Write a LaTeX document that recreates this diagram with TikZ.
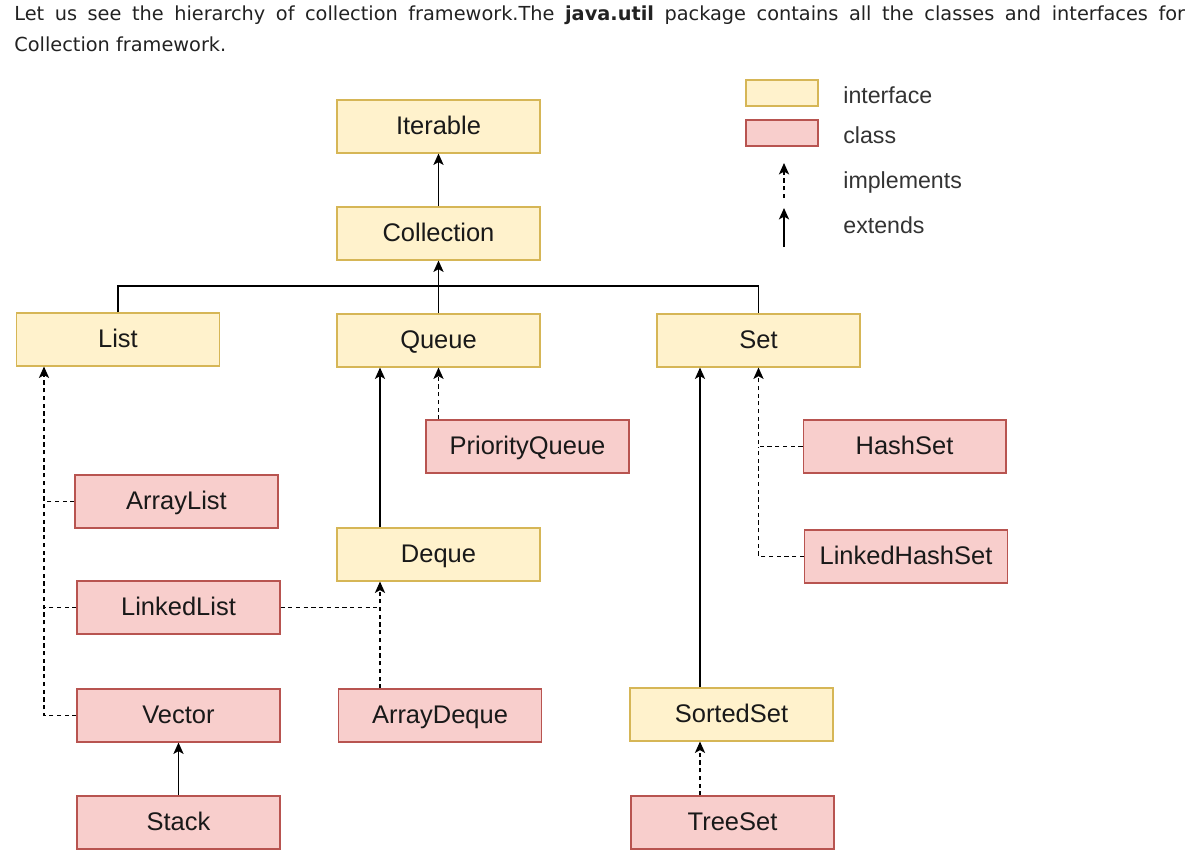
\documentclass[tikz,border=0pt]{standalone}
\usepackage{fontspec}
\setmainfont{Liberation Sans}
\newfontfamily\headfont{DejaVu Sans}
\usepackage{xcolor}
\usetikzlibrary{positioning,arrows.meta}
\definecolor{ifacefill}{HTML}{FFF2CC}
\definecolor{ifacedraw}{HTML}{D6B656}
\definecolor{classfill}{HTML}{F8CECC}
\definecolor{classdraw}{HTML}{B85450}
\definecolor{headtext}{HTML}{222222}

\begin{document}
\begin{tikzpicture}[
        x=0.02cm, y=-0.02cm,
        iface/.style={rectangle, draw=ifacedraw, fill=ifacefill, line width=0.6pt, minimum width=4.06cm, minimum height=1.06cm, inner sep=0pt, text height=10.4pt, text depth=1.2pt, text=black!90, font=\fontsize{14.5}{17}\selectfont},
        cls/.style={iface, draw=classdraw, fill=classfill},
        keybox/.style={rectangle, line width=0.6pt, minimum width=1.44cm, minimum height=0.52cm, inner sep=0pt},
        keytext/.style={anchor=west, inner sep=0pt, font=\fontsize{13.2}{15}\selectfont, black!80},
        ext/.style={-{Stealth[length=6.5pt,width=5.8pt,inset=1.6pt]}, line width=0.8pt},
        impl/.style={ext, dash pattern=on 2.4pt off 2pt},
        implline/.style={line width=0.8pt, dash pattern=on 2.4pt off 2pt}
      ]
        \useasboundingbox (0,0) rectangle (1204,860);
        % heading text
        \node[anchor=base west, inner sep=0pt, headtext, font=\headfont\fontsize{11}{13}\selectfont] at (14,20) (head1)
          {\makebox[23.42cm][s]{Let us see the hierarchy of collection framework.The \textbf{java.util} package contains all the classes and interfaces for}};
        \node[anchor=base west, inner sep=0pt, headtext, font=\headfont\fontsize{11}{13}\selectfont] at (14,51) (head2) {Collection framework.};

        % legend
        \node[keybox, draw=ifacedraw, fill=ifacefill] at (782,93) (keyiface) {};
        \node[keybox, draw=classdraw, fill=classfill] at (782,133) (keycls) {};
        \node[keytext] at (843,95) (keyifacetext) {interface};
        \node[keytext] at (843,135) (keyclstext) {class};
        \node[keytext] at (843,182) (keyimpltext) {implements};
        \node[keytext] at (843,225) (keyexttext) {extends};
        \coordinate (impla) at (784,198);
        \coordinate (implb) at (784,163);
        \coordinate (exta) at (784,247);
        \coordinate (extb) at (784,208);
        \draw[impl] (impla) -- (implb);
        \draw[ext] (exta) -- (extb);

        % interfaces
        \node[iface] at (438.5,126.5) (iterable) {Iterable};
        \node[iface] at (438.5,233.5) (collection) {Collection};
        \node[iface] at (118,339.5) (list) {List};
        \node[iface] at (438.5,340.5) (queue) {Queue};
        \node[iface] at (758.5,340.5) (set) {Set};
        \node[iface] at (438.5,554.5) (deque) {Deque};
        \node[iface] at (731.5,714.5) (sortedset) {SortedSet};

        % classes
        \node[cls] at (527.5,446.5) (priorityqueue) {PriorityQueue};
        \node[cls] at (904.5,446.5) (hashset) {HashSet};
        \node[cls] at (176.5,501.5) (arraylist) {ArrayList};
        \node[cls] at (906,556.5) (linkedhashset) {LinkedHashSet};
        \node[cls] at (178.5,607.5) (linkedlist) {LinkedList};
        \node[cls] at (178.5,715.5) (vector) {Vector};
        \node[cls] at (440,715.5) (arraydeque) {ArrayDeque};
        \node[cls] at (178.5,822.5) (stack) {Stack};
        \node[cls] at (732.5,822.5) (treeset) {TreeSet};

        % bus positions
        \coordinate (topbus) at (0,286);
        \coordinate (listbus) at (44,0);
        \coordinate (dequebus) at (380,0);
        \coordinate (sortbus) at (700,0);

        % extends
        \draw[ext] (collection) -- (iterable);
        \draw[ext] (queue) -- (collection);
        \draw[line width=0.8pt] (list.north) |- (topbus -| set.north) -- (set.north);
        \draw[ext] (deque.north -| dequebus) -- (dequebus |- queue.south);
        \draw[ext] (sortedset.north -| sortbus) -- (sortbus |- set.south);
        \draw[ext] (stack) -- (stack.north |- vector.south);

        % implements
        \draw[impl] (vector.west) -| (listbus |- list.south);
        \draw[implline] (arraylist.west) -- (arraylist.west -| listbus);
        \draw[implline] (linkedlist.west) -- (linkedlist.west -| listbus);
        \draw[impl] (priorityqueue.north -| queue.south) -- (queue.south);
        \draw[implline] (linkedlist.east) -- (linkedlist.east -| dequebus);
        \draw[impl] (arraydeque.north -| dequebus) -- (dequebus |- deque.south);
        \draw[impl] (hashset.west) -| (set.south);
        \draw[implline] (linkedhashset.west) -| (hashset.west -| set.south);
        \draw[impl] (treeset.north -| sortbus) -- (sortbus |- sortedset.south);
      \end{tikzpicture}
\end{document}
